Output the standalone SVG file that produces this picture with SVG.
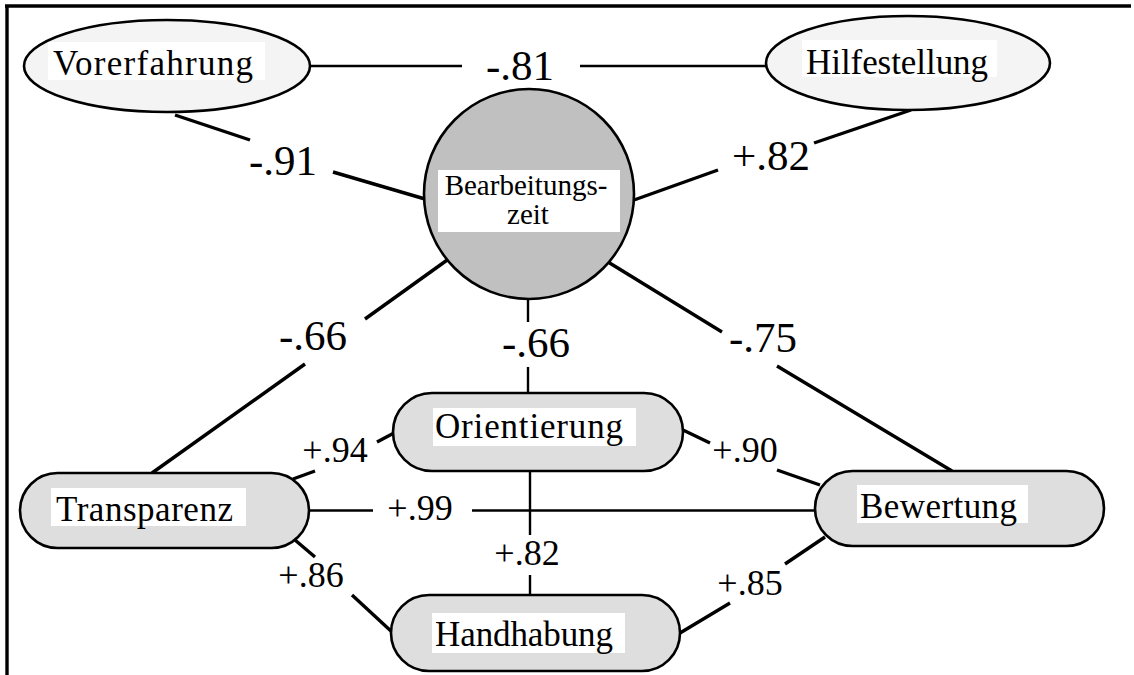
<svg xmlns="http://www.w3.org/2000/svg" width="1134" height="675" viewBox="0 0 1134 675" font-family="'Liberation Serif', 'Times New Roman', serif">
<style>
  .node { font-size: 35px; }
  .big { font-size: 43px; }
  .small { font-size: 36px; }
  .ell { fill: #f4f4f4; stroke: #000; stroke-width: 2.6; }
  .pill { fill: #dedede; stroke: #000; stroke-width: 2.6; }
  .bg { fill: #fff; }
  .c { stroke: #000; stroke-width: 3.4; fill: none; }
  .t { stroke: #000; stroke-width: 2.4; fill: none; }
</style>
<rect width="1134" height="675" fill="#fff"/>
<g id="frame">
  <line x1="5" y1="6" x2="1131" y2="6" stroke="#000" stroke-width="3.4"/>
  <line x1="7" y1="5" x2="7" y2="675" stroke="#000" stroke-width="3.4"/>
</g>
<g id="connectors">
  <line class="t" x1="310" y1="66" x2="462" y2="66"/>
  <line class="t" x1="580" y1="66" x2="767" y2="66"/>
  <line class="c" x1="175" y1="115" x2="250" y2="140"/>
  <line class="c" x1="333" y1="172" x2="425" y2="199"/>
  <line class="c" x1="911" y1="110" x2="814" y2="143"/>
  <line class="c" x1="718" y1="170" x2="634" y2="200"/>
  <line class="c" x1="450" y1="258" x2="365" y2="319"/>
  <line class="c" x1="305" y1="364" x2="152" y2="473"/>
  <line class="t" x1="528" y1="298" x2="528" y2="322"/>
  <line class="t" x1="528" y1="367" x2="528" y2="393"/>
  <line class="c" x1="608" y1="262" x2="722" y2="332"/>
  <line class="c" x1="777" y1="366" x2="952" y2="471"/>
  <line class="c" x1="293" y1="479" x2="315" y2="471"/>
  <line class="c" x1="377" y1="442" x2="394" y2="433"/>
  <line class="t" x1="309" y1="510.5" x2="373" y2="510.5"/>
  <line class="t" x1="472" y1="510.5" x2="815" y2="510.5"/>
  <line class="c" x1="295" y1="540" x2="315" y2="557"/>
  <line class="c" x1="352" y1="595" x2="392" y2="632"/>
  <line class="t" x1="530" y1="471" x2="530" y2="535"/>
  <line class="t" x1="530" y1="575" x2="530" y2="595"/>
  <line class="c" x1="683" y1="430" x2="710" y2="443"/>
  <line class="c" x1="777" y1="470" x2="820" y2="485"/>
  <line class="c" x1="825" y1="537" x2="785" y2="564"/>
  <line class="c" x1="730" y1="603" x2="680" y2="633"/>
</g>
<g id="edge-labels">
  <text class="big" x="520" y="80" text-anchor="middle">-.81</text>
  <text class="big" x="283" y="175" text-anchor="middle">-.91</text>
  <text class="big" x="771" y="170" text-anchor="middle">+.82</text>
  <text class="big" x="313" y="350" text-anchor="middle">-.66</text>
  <text class="big" x="536" y="357" text-anchor="middle">-.66</text>
  <text class="big" x="763" y="352" text-anchor="middle">-.75</text>
  <text class="small" x="335" y="462" text-anchor="middle">+.94</text>
  <text class="small" x="420" y="520" text-anchor="middle">+.99</text>
  <text class="small" x="311" y="587" text-anchor="middle">+.86</text>
  <text class="small" x="527" y="565" text-anchor="middle">+.82</text>
  <text class="small" x="745" y="462" text-anchor="middle">+.90</text>
  <text class="small" x="750" y="595" text-anchor="middle">+.85</text>
</g>
<g id="vorerfahrung">
  <ellipse class="ell" cx="167" cy="66" rx="143" ry="46"/>
  <rect class="bg" x="48" y="42" width="217" height="38"/>
  <text class="node" x="53" y="75" textLength="200">Vorerfahrung</text>
</g>
<g id="hilfestellung">
  <ellipse class="ell" cx="908" cy="63" rx="142" ry="47"/>
  <rect class="bg" x="802" y="40" width="195" height="37"/>
  <text class="node" x="806" y="74" textLength="182">Hilfestellung</text>
</g>
<g id="bearbeitungszeit">
  <circle cx="529" cy="194" r="105" fill="#c0c0c0" stroke="#000" stroke-width="2.6"/>
  <rect class="bg" x="438" y="170" width="182" height="62"/>
  <text x="526" y="195" text-anchor="middle" font-size="29">Bearbeitungs-</text>
  <text x="528" y="224" text-anchor="middle" font-size="29">zeit</text>
</g>
<g id="transparenz">
  <rect class="pill" x="20" y="473" width="289" height="75" rx="37.5"/>
  <rect class="bg" x="51" y="488" width="195" height="38"/>
  <text class="node" x="56" y="521" textLength="177">Transparenz</text>
</g>
<g id="orientierung">
  <rect class="pill" x="393" y="393" width="290" height="78" rx="39"/>
  <rect class="bg" x="433" y="408" width="203" height="38"/>
  <text class="node" x="435" y="438" textLength="188">Orientierung</text>
</g>
<g id="handhabung">
  <rect class="pill" x="391" y="595" width="289" height="76" rx="38"/>
  <rect class="bg" x="432" y="613" width="193" height="40"/>
  <text class="node" x="435" y="646" textLength="178">Handhabung</text>
</g>
<g id="bewertung">
  <rect class="pill" x="815" y="471" width="289" height="75" rx="37.5"/>
  <rect class="bg" x="857" y="485" width="171" height="38"/>
  <text class="node" x="860" y="518" textLength="157">Bewertung</text>
</g>
</svg>
